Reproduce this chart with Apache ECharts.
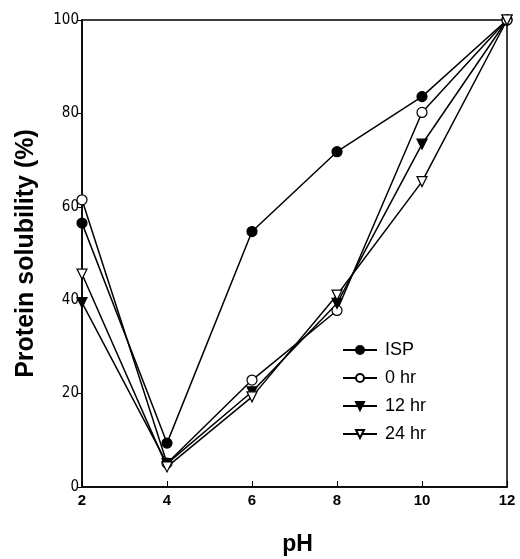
<!DOCTYPE html>
<html><head><meta charset="utf-8">
<script src="https://cdn.jsdelivr.net/npm/echarts@6/dist/echarts.min.js"></script>
<style>html,body{margin:0;padding:0;background:#fff}#c{width:520px;height:559px}</style>
</head><body><div id="c"></div>
<script>
const phValues = [2, 4, 6, 8, 10, 12];
const seriesNames = ['ISP', '0 hr', '12 hr', '24 hr'];
const ispValues = [56.5, 9.4, 54.7, 71.8, 83.6, 100];
const hr0Values = [61.5, 5.1, 22.9, 37.8, 80.2, 100];
const hr12Values = [39.5, 5.0, 20.4, 39.3, 73.4, 100];
const hr24Values = [45.6, 4.3, 19.3, 41.1, 65.4, 100];
const yTicks = [0, 20, 40, 60, 80, 100];

const tri = 'path://M0,0 L10,0 L5,10 Z';
function mk(name, vals, symbol, filled, size) {
  return {
    name: name, type: 'line',
    data: phValues.map((x, i) => [x, vals[i]]),
    symbol: symbol, symbolSize: size,
    showAllSymbol: true,
    lineStyle: { color: '#000', width: 1.5 },
    itemStyle: { color: filled ? '#000' : '#fff', borderColor: '#000', borderWidth: 1.2 },
    z: 3
  };
}
const chart = echarts.init(document.getElementById('c'));
chart.setOption({
  animation: false,
  backgroundColor: '#fff',
  grid: { left: 82, right: 13, top: 20, bottom: 72, outerBoundsMode: 'none', containLabel: false,
    show: true, borderColor: '#000', borderWidth: 1.5 },
  xAxis: {
    type: 'value', min: 2, max: 12, interval: 2,
    name: 'pH', nameLocation: 'middle', nameGap: 46,
    nameTextStyle: { fontFamily: 'Liberation Sans', fontWeight: 'bold', fontSize: 23, color: '#000', padding: [0, 0, 0, 6] },
    axisLine: { lineStyle: { color: '#000', width: 1.5 } },
    axisTick: { inside: true, length: 6, lineStyle: { color: '#000' } },
    axisLabel: { color: '#000', fontFamily: 'Liberation Sans', fontWeight: 'bold', fontSize: 15, margin: 6 },
    splitLine: { show: false }
  },
  yAxis: {
    type: 'value', min: 0, max: 100, interval: 20,
    name: 'Protein solubility (%)', nameLocation: 'middle', nameGap: 43,
    nameTextStyle: { fontFamily: 'Liberation Sans', fontWeight: 'bold', fontSize: 25, color: '#000' },
    axisLine: { lineStyle: { color: '#000', width: 1.5 } },
    axisTick: { inside: false, length: 4, lineStyle: { color: '#000' } },
    axisLabel: { color: '#000', fontFamily: '"Liberation Sans Narrow", "DejaVu Sans Condensed", "Liberation Sans"', fontSize: 15, margin: 3,
      formatter: v => yTicks.includes(v) ? String(v) : '' },
    splitLine: { show: false }
  },
  legend: {
    orient: 'vertical', left: 337, top: 336,
    itemWidth: 34, itemHeight: 10, itemGap: 10,
    textStyle: { fontFamily: 'Liberation Sans', fontSize: 18, color: '#000', padding: [0, 0, 0, 3] },
    data: seriesNames
  },
  series: [
    mk(seriesNames[0], ispValues, 'circle', true, 10),
    mk(seriesNames[1], hr0Values, 'circle', false, 10),
    mk(seriesNames[2], hr12Values, tri, true, 10),
    mk(seriesNames[3], hr24Values, tri, false, 10)
  ]
});
</script></body></html>
